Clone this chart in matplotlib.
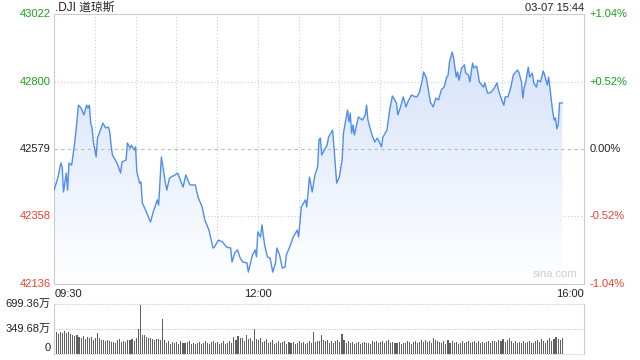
import numpy as np
import matplotlib
matplotlib.use('Agg')
import matplotlib.pyplot as plt

plt.rcParams['font.family'] = ['Liberation Sans', 'Noto Sans CJK SC', 'DejaVu Sans']

# 分时数据: 距 09:30 的分钟数, 指数点位
minutes = [0, 3, 5, 6, 7, 9, 10, 11, 13, 14, 15, 16, 18, 20, 22, 24, 25, 26, 27, 28,
           29, 31, 32, 35, 36, 38, 40, 41, 42, 43, 46, 47, 49, 50, 53, 54, 56, 57, 59, 60,
           61, 63, 64, 65, 68, 71, 73, 76, 77, 79, 82, 83, 85, 89, 91, 95, 97, 100, 104, 106,
           109, 111, 114, 117, 118, 121, 124, 127, 130, 131, 133, 135, 137, 139, 142, 143, 146, 148, 149, 150,
           152, 153, 155, 157, 159, 161, 163, 164, 166, 168, 170, 171, 174, 176, 179, 180, 182, 185, 186, 188,
           190, 192, 194, 195, 196, 197, 199, 201, 202, 205, 206, 208, 210, 212, 213, 216, 217, 218, 219, 220,
           221, 223, 224, 227, 229, 230, 231, 234, 236, 238, 241, 242, 245, 247, 249, 252, 253, 255, 257, 259,
           260, 263, 266, 267, 269, 271, 272, 274, 277, 279, 281, 283, 285, 287, 289, 290, 291, 293, 294, 296,
           297, 298, 300, 302, 303, 305, 306, 308, 309, 311, 312, 313, 316, 317, 319, 321, 323, 324, 326, 327,
           330, 331, 332, 334, 336, 338, 341, 342, 344, 345, 346, 347, 349, 350, 352, 353, 355, 356, 358, 360,
           361, 363, 364, 366, 367, 368, 369, 370, 371, 372, 374]
prices = [42444, 42487, 42533, 42520, 42438, 42500, 42444, 42533, 42526, 42559, 42592, 42631, 42723, 42713, 42691, 42723, 42713, 42723, 42664, 42648,
          42602, 42553, 42615, 42651, 42664, 42648, 42651, 42635, 42592, 42559, 42536, 42526, 42500, 42536, 42543, 42599, 42582, 42592, 42576, 42586,
          42503, 42467, 42471, 42402, 42372, 42339, 42372, 42412, 42395, 42553, 42467, 42444, 42484, 42494, 42500, 42454, 42494, 42461, 42461, 42421,
          42389, 42346, 42313, 42254, 42257, 42280, 42274, 42257, 42254, 42208, 42238, 42248, 42221, 42208, 42205, 42175, 42231, 42248, 42225, 42307,
          42290, 42330, 42264, 42225, 42221, 42175, 42205, 42254, 42231, 42188, 42192, 42231, 42264, 42290, 42313, 42290, 42389, 42412, 42389, 42487,
          42438, 42494, 42520, 42609, 42615, 42559, 42576, 42592, 42618, 42641, 42586, 42467, 42487, 42543, 42631, 42707, 42668, 42697, 42631, 42658,
          42625, 42664, 42684, 42674, 42691, 42723, 42674, 42625, 42602, 42615, 42586, 42618, 42641, 42707, 42753, 42730, 42691, 42717, 42750, 42717,
          42730, 42756, 42750, 42750, 42766, 42805, 42832, 42812, 42733, 42717, 42746, 42740, 42773, 42782, 42815, 42822, 42864, 42897, 42878, 42815,
          42832, 42805, 42845, 42855, 42828, 42822, 42799, 42861, 42845, 42851, 42828, 42799, 42782, 42796, 42763, 42763, 42773, 42779, 42796, 42773,
          42733, 42723, 42750, 42750, 42779, 42822, 42838, 42832, 42799, 42746, 42782, 42796, 42848, 42815, 42828, 42796, 42782, 42805, 42799, 42835,
          42822, 42789, 42815, 42740, 42700, 42674, 42681, 42645, 42658, 42730, 42730]

prev_close = 42579
price_ticks = [43022, 42800, 42579, 42358, 42136]
pct_labels = ['+1.04%', '+0.52%', '0.00%', '-0.52%', '-1.04%']
tick_colors = ['#1aa31a', '#1aa31a', '#222222', '#f03c2e', '#f03c2e']

# 成交量 (万), 每 1.5 分钟一根
volumes = [300, 310, 285, 305, 300, 315, 290, 310, 280, 265,
           250, 270, 240, 230, 255, 210, 240, 225, 235, 200,
           230, 300, 220, 195, 200, 180, 190, 175, 170, 165,
           160, 190, 205, 170, 185, 170, 200, 195, 210, 180,
           230, 350, 690, 270, 260, 240, 225, 230, 215, 200,
           210, 205, 200, 490, 190, 150, 175, 140, 165, 155,
           170, 145, 180, 160, 150, 165, 175, 140, 160, 135,
           150, 170, 145, 160, 175, 150, 140, 165, 185, 150,
           170, 145, 155, 175, 140, 160, 180, 155, 240, 200,
           250, 225, 230, 180, 260, 215, 230, 175, 350, 210,
           190, 230, 165, 180, 205, 150, 170, 190, 145, 160,
           180, 150, 165, 175, 140, 165, 150, 170, 145, 160,
           185, 150, 165, 140, 160, 175, 150, 310, 165, 180,
           185, 260, 200, 175, 190, 160, 175, 150, 185, 200,
           165, 275, 190, 160, 175, 150, 165, 140, 160, 170,
           145, 155, 170, 150, 160, 140, 175, 165, 180, 150,
           170, 185, 160, 175, 190, 155, 170, 160, 150, 165,
           140, 160, 155, 175, 165, 145, 165, 185, 160, 170,
           190, 165, 200, 170, 180, 155, 220, 200, 180, 170,
           160, 175, 145, 190, 160, 180, 150, 170, 145, 160,
           175, 150, 165, 180, 155, 170, 185, 160, 175, 155,
           170, 150, 165, 180, 160, 175, 185, 170, 200, 180,
           210, 165, 195, 220, 180, 160, 175, 150, 165, 160,
           180, 150, 165, 175, 160, 150, 185, 200, 170, 215,
           180, 160, 195, 220, 180, 210, 240, 215, 200, 230]
vol_max = 699.36

fig = plt.figure(figsize=(6.4, 3.6), dpi=100)
ax = fig.add_axes([54 / 640, 1 - 284 / 360, 530 / 640, 270 / 360])
axv = fig.add_axes([54 / 640, 1 - 354 / 360, 530 / 640, 50 / 360])

ymin, ymax = price_ticks[-1], price_ticks[0]
ax.set_xlim(0, 390)
ax.set_ylim(ymin, ymax)

# 渐变填充
poly = ax.fill_between(minutes, prices, ymin, color='none', lw=0)
grad = np.linspace(1, 0, 256).reshape(-1, 1)
top_c = np.array([0.84, 0.89, 0.98])
bot_c = np.array([1.0, 1.0, 1.0])
img = top_c * grad[..., None] + bot_c * (1 - grad[..., None])
im = ax.imshow(img, extent=[0, 390, ymin, max(prices)], aspect='auto', origin='upper', zorder=1)
path = poly.get_paths()[0]
im.set_clip_path(path, transform=ax.transData)
ax.plot(minutes, prices, color='#4f8ef0', lw=1.0, zorder=3)

# 网格
for m in range(30, 390, 30):
    ax.axvline(m, color='#cccccc', lw=0.8, ls=(0, (1, 2)), zorder=0.5)
for p in [42800, 42358]:
    ax.axhline(p, color='#cccccc', lw=0.8, ls=(0, (1, 2)), zorder=0.5)
ax.axhline(prev_close, color='#bbbbbb', lw=0.8, ls=(0, (3, 3)), zorder=2)

for s in ax.spines.values():
    s.set_color('#cccccc')
ax.set_xticks([])
ax.set_yticks([])

for p, lab, c in zip(price_ticks, pct_labels, tick_colors):
    ax.text(-0.006, p, str(p), transform=ax.get_yaxis_transform(), ha='right', va='center',
            fontsize=8, color=c)
    ax.text(1.01, p, lab, transform=ax.get_yaxis_transform(), ha='left', va='center',
            fontsize=8, color=c)

fig.text(55 / 640, 1 - 8 / 360, '.DJI 道琼斯', ha='left', va='center', fontsize=8.5, color='#222222')
fig.text(584 / 640, 1 - 8 / 360, '03-07 15:44', ha='right', va='center', fontsize=8, color='#222222')
ax.text(0.002, -0.02, '09:30', transform=ax.transAxes, ha='left', va='top', fontsize=8, color='#222222')
ax.text(150, -0.02, '12:00', transform=ax.get_xaxis_transform(), ha='center', va='top', fontsize=8, color='#222222')
ax.text(1.0, -0.02, '16:00', transform=ax.transAxes, ha='right', va='top', fontsize=8, color='#222222')
ax.text(0.945, 0.02, 'sina.com', transform=ax.transAxes, ha='center', va='bottom', fontsize=8, color='#cccccc')

# 成交量
vol_t = np.arange(len(volumes)) * 1.5
axv.bar(vol_t, volumes, width=0.8, color='#606060', align='edge', zorder=2, antialiased=False)
axv.set_xlim(0, 390)
axv.set_ylim(0, vol_max)
axv.set_xticks([])
axv.set_yticks([])
for side in ['top', 'bottom']:
    axv.spines[side].set_visible(False)
for side in ['left', 'right']:
    axv.spines[side].set_color('#cccccc')
for v in [vol_max, vol_max / 2, 0]:
    axv.axhline(v, color='#cccccc', lw=0.8, ls=(0, (1, 1)), zorder=1, clip_on=False)
axv.text(-0.006, vol_max, '699.36万', transform=axv.get_yaxis_transform(), ha='right', va='center', fontsize=8, color='#222222')
axv.text(-0.006, vol_max / 2, '349.68万', transform=axv.get_yaxis_transform(), ha='right', va='center', fontsize=8, color='#222222')
axv.text(-0.006, 0.12, '0', transform=axv.transAxes, ha='right', va='center', fontsize=8, color='#222222')

plt.savefig('out.png', dpi=100)
